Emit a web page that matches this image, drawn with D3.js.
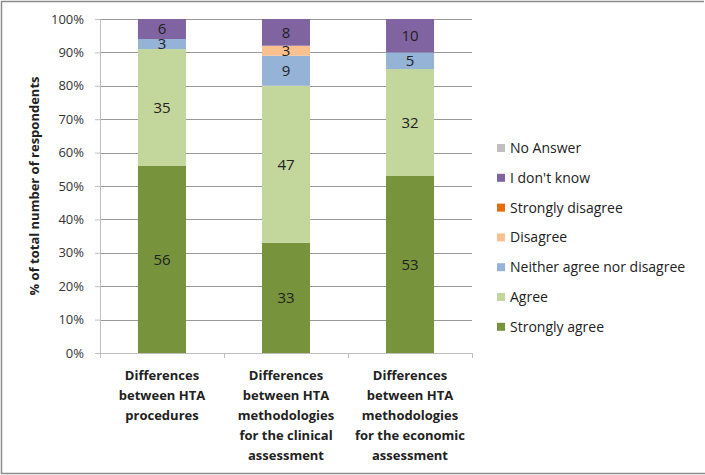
<!DOCTYPE html>
<html>
<head>
<meta charset="utf-8">
<script src="https://cdn.jsdelivr.net/npm/d3@7"></script>
<style>
  body { margin: 0; background: #fff; }
  svg { display: block; font-family: "Open Sans", "Liberation Sans", Arial, sans-serif; }
</style>
</head>
<body>
<div id="chart"></div>
<script>
// categories (one per bar), each label split into lines
var categories = [
  ["Differences", "between HTA", "procedures"],
  ["Differences", "between HTA", "methodologies", "for the clinical", "assessment"],
  ["Differences", "between HTA", "methodologies", "for the economic", "assessment"]
];

// series, bottom to top of the stack
var seriesNames = ["Strongly agree", "Agree", "Neither agree nor disagree", "Disagree",
                   "Strongly disagree", "I don't know", "No Answer"];
var seriesColors = ["#77933c", "#c3d69b", "#95b3d7", "#fac090", "#e46c0a", "#8064a2", "#bfbfbf"];

// % of respondents, one value per category
var stronglyAgree    = [56, 33, 53];
var agree            = [35, 47, 32];
var neither          = [3, 9, 5];
var disagree         = [0, 3, 0];
var stronglyDisagree = [0, 0, 0];
var dontKnow         = [6, 8, 10];
var noAnswer         = [0, 0, 0];

var yTicks = [0, 10, 20, 30, 40, 50, 60, 70, 80, 90, 100];

var seriesValues = [stronglyAgree, agree, neither, disagree, stronglyDisagree, dontKnow, noAnswer];

// build rows for d3.stack
var rows = categories.map(function(c, i) {
  var r = {idx: i};
  seriesNames.forEach(function(s, j) { r[s] = seriesValues[j][i]; });
  return r;
});

var W = 705, H = 475;
var margin = {top: 19, left: 100, right: 233, bottom: 122};
var plotW = W - margin.left - margin.right,
    plotH = H - margin.top - margin.bottom;

var svg = d3.select("#chart").append("svg")
    .attr("width", W)
    .attr("height", H);

// outer frame (top, left, bottom)
svg.append("path")
    .attr("d", "M704,1.5 H1.5 V473.5 H705")
    .attr("fill", "none")
    .attr("stroke", "#8c8c8c")
    .attr("stroke-width", 1.5);

var g = svg.append("g").attr("transform", "translate(" + margin.left + "," + margin.top + ")");

var x = d3.scaleBand().domain(d3.range(categories.length)).range([0, plotW]).paddingInner(0.613).paddingOuter(0.306);
var xCat = d3.scaleBand().domain(d3.range(categories.length)).range([0, plotW]);
var y = d3.scaleLinear().domain([0, 100]).range([plotH, 0]);

// gridlines
g.append("g").selectAll("line")
  .data(yTicks.filter(function(t) { return t > 0; }))
  .enter().append("line")
    .attr("x1", 0).attr("x2", plotW)
    .attr("y1", function(d) { return Math.round(y(d)) + 0.5; })
    .attr("y2", function(d) { return Math.round(y(d)) + 0.5; })
    .attr("stroke", "#999")
    .attr("stroke-width", 1);

// y axis
var yAxis = g.append("g")
    .call(d3.axisLeft(y).tickValues(yTicks).tickFormat(function(d) { return d + "%"; }).tickSizeOuter(0).tickSize(5).tickPadding(11));
yAxis.select(".domain").attr("stroke", "#bfbfbf");
yAxis.selectAll(".tick line").attr("stroke", "#bfbfbf");
yAxis.selectAll("text").attr("font-size", 13).attr("fill", "#333").attr("font-family", "Open Sans, Liberation Sans, sans-serif");

// x axis line and category ticks
g.append("line")
    .attr("x1", 0).attr("x2", plotW)
    .attr("y1", plotH + 0.5).attr("y2", plotH + 0.5)
    .attr("stroke", "#bfbfbf");
g.append("g").selectAll("line")
  .data(d3.range(categories.length + 1))
  .enter().append("line")
    .attr("x1", function(d) { return Math.round(d * xCat.step()) + 0.5; })
    .attr("x2", function(d) { return Math.round(d * xCat.step()) + 0.5; })
    .attr("y1", plotH).attr("y2", plotH + 5)
    .attr("stroke", "#bfbfbf");

// stacked bars
var stack = d3.stack().keys(seriesNames);
var layers = stack(rows);

var layer = g.selectAll("g.layer")
  .data(layers)
  .enter().append("g")
    .attr("class", "layer")
    .attr("fill", function(d, i) { return seriesColors[i]; });

layer.selectAll("rect")
  .data(function(d) { return d; })
  .enter().append("rect")
    .attr("x", function(d) { return x(d.data.idx); })
    .attr("width", x.bandwidth())
    .attr("y", function(d) { return y(d[1]); })
    .attr("height", function(d) { return y(d[0]) - y(d[1]); });

// value labels
layer.selectAll("text")
  .data(function(d) { return d.filter(function(p) { return p[1] - p[0] > 0; }); })
  .enter().append("text")
    .attr("x", function(d) { return x(d.data.idx) + x.bandwidth() / 2; })
    .attr("y", function(d) { return y((d[0] + d[1]) / 2); })
    .attr("dy", "0.36em")
    .attr("text-anchor", "middle")
    .attr("font-size", 15)
    .attr("fill", "#222")
    .text(function(d) { return d[1] - d[0]; });

// category labels
var catText = g.append("g").selectAll("text")
  .data(categories)
  .enter().append("text")
    .attr("text-anchor", "middle")
    .attr("font-size", 13)
    .attr("font-weight", "bold")
    .attr("fill", "#222")
    .attr("transform", function(d, i) {
      return "translate(" + (xCat(i) + xCat.bandwidth() / 2) + "," + (plotH + 27) + ")";
    });
catText.selectAll("tspan")
  .data(function(d) { return d; })
  .enter().append("tspan")
    .attr("x", 0)
    .attr("y", function(d, i) { return i * 20; })
    .text(function(d) { return d; });

// y axis title
svg.append("text")
    .attr("transform", "translate(39," + (margin.top + plotH / 2) + ") rotate(-90)")
    .attr("text-anchor", "middle")
    .attr("font-size", 13)
    .attr("font-weight", "bold")
    .attr("fill", "#222")
    .text("% of total number of respondents");

// legend, top entry is the last series
var legend = svg.append("g").attr("transform", "translate(497,148)");
var legItems = legend.selectAll("g")
  .data(seriesNames.slice().reverse())
  .enter().append("g")
    .attr("transform", function(d, i) { return "translate(0," + (i * 29.8) + ")"; });
legItems.append("rect")
    .attr("x", 0).attr("y", -4)
    .attr("width", 8).attr("height", 8)
    .attr("fill", function(d) { return seriesColors[seriesNames.indexOf(d)]; });
legItems.append("text")
    .attr("x", 13)
    .attr("dy", "0.36em")
    .attr("font-size", 14)
    .attr("fill", "#222")
    .text(function(d) { return d; });
</script>
</body>
</html>
